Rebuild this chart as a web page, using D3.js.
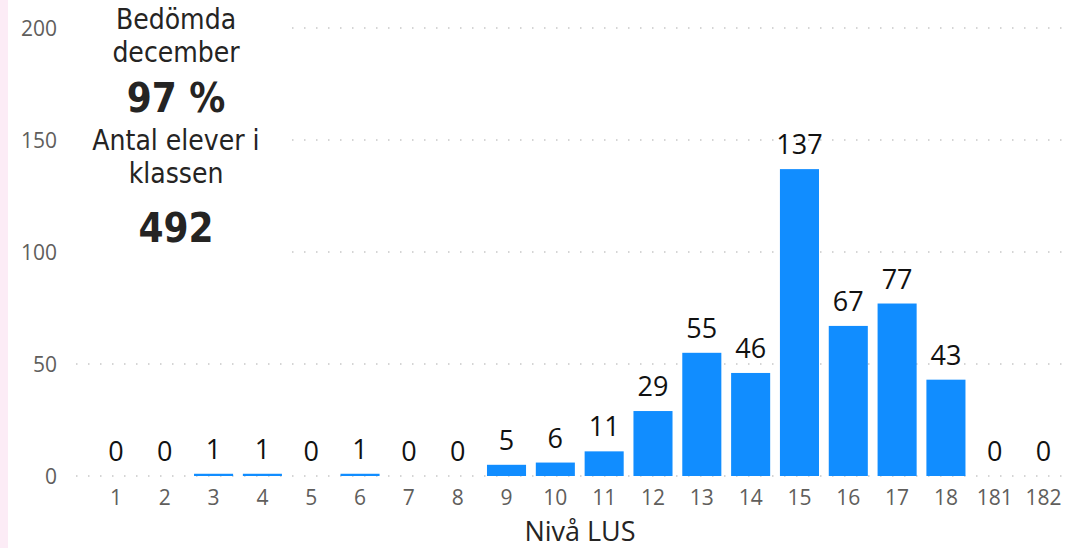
<!DOCTYPE html>
<html>
<head>
<meta charset="utf-8">
<script src="https://cdn.jsdelivr.net/npm/d3@7"></script>
<style>
  body { margin:0; background:#fff; }
  svg { display:block; }
  .tick text { font-family:"Open Sans","Noto Sans",sans-serif; fill:#605E5C; }
</style>
</head>
<body>
<div id="chart"></div>
<script>
// data
var levels = ['1','2','3','4','5','6','7','8','9','10','11','12','13','14','15','16','17','18','181','182'];
var counts = [0,0,1,1,0,1,0,0,5,6,11,29,55,46,137,67,77,43,0,0];
var yTicks = [0,50,100,150,200];
var cardLines = [
  {text:'Bedömda', size:28, y:29},
  {text:'december', size:28, y:62},
  {text:'97 %', size:40, y:112, big:true},
  {text:'Antal elever i', size:28, y:150},
  {text:'klassen', size:28, y:183},
  {text:'492', size:40, y:242, big:true}
];

var width = 1068, height = 548;
var margin = {top:28, left:91.5, right:0, bottom:72};

var svg = d3.select('#chart').append('svg')
  .attr('width', width)
  .attr('height', height);

// pink edge on the left
svg.append('rect')
  .attr('x',0).attr('y',0)
  .attr('width',8).attr('height',height)
  .attr('fill','#fcecf6');

var x = d3.scaleBand()
  .domain(levels)
  .range([margin.left, width - margin.right])
  .paddingInner(0.2)
  .paddingOuter(0.1);

var y = d3.scaleLinear()
  .domain([0,200])
  .range([476, 28]);

//gridlines
var grid = svg.append('g');
yTicks.forEach(function (t) {
  grid.append('line')
    .attr('x1', 76).attr('x2', width)
    .attr('y1', y(t)).attr('y2', y(t))
    .attr('stroke','#c8c8c8')
    .attr('stroke-width',1.5)
    .attr('stroke-dasharray','1.5,10.5');
});

// y axis labels
var yAxis = svg.append('g')
  .attr('transform','translate(57,0)')
  .call(d3.axisLeft(y).tickValues(yTicks).tickSize(0).tickPadding(0));
yAxis.select('.domain').remove();
yAxis.selectAll('text').style('font-size','21px').attr('dy','0.35em');

// x axis labels
var xAxis = svg.append('g')
  .attr('transform','translate(0,' + 476 + ')')
  .call(d3.axisBottom(x).tickSize(0).tickPadding(14));
xAxis.select('.domain').remove();
xAxis.selectAll('text').style('font-size','21px').attr('dy','0.71em');

// bars
svg.append('g').selectAll('rect')
  .data(counts)
  .enter().append('rect')
  .attr('x', function (d,i) { return x(levels[i]); })
  .attr('width', x.bandwidth())
  .attr('y', function (d) { return y(d); })
  .attr('height', function (d) { return y(0) - y(d); })
  .attr('fill','#118DFF');

// data labels
svg.append('g').selectAll('text')
  .data(counts)
  .enter().append('text')
  .attr('x', function (d,i) { return x(levels[i]) + x.bandwidth()/2; })
  .attr('y', function (d) { return y(d) - 15; })
  .attr('text-anchor','middle')
  .style('font-family','"Open Sans","Noto Sans",sans-serif')
  .style('font-size','27px')
  .attr('fill','#111')
  .text(function (d) { return d; });

// axis title
svg.append('text')
  .attr('x', 580).attr('y', 541)
  .attr('text-anchor','middle')
  .style('font-family','"Open Sans","Noto Sans",sans-serif')
  .style('font-size','27px')
  .attr('fill','#252423')
  .text('Nivå LUS');

// card that sits over the chart
svg.append('rect')
  .attr('x',72).attr('y',0)
  .attr('width',210).attr('height',262)
  .attr('fill','#fff');

svg.append('g').selectAll('text')
  .data(cardLines)
  .enter().append('text')
  .attr('x',176)
  .attr('y', function (d) { return d.y; })
  .attr('text-anchor','middle')
  .style('font-family','"DejaVu Sans Condensed","Roboto",sans-serif')
  .style('font-size', function (d) { return d.size + 'px'; })
  .style('font-weight', function (d) { return d.big ? 'bold' : 'normal'; })
  .attr('fill','#252423')
  .text(function (d) { return d.text; });
</script>
</body>
</html>
